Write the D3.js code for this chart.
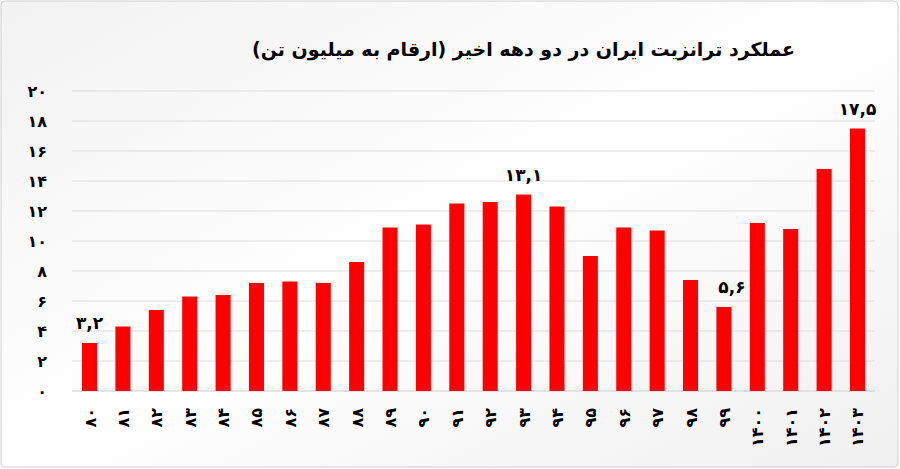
<!DOCTYPE html><html><head><meta charset="utf-8"><script src="https://cdn.jsdelivr.net/npm/d3@7"></script>
<style>body{margin:0}svg{display:block}</style></head><body><svg width="900" height="469"></svg><script>
const categories=["80","81","82","83","84","85","86","87","88","89","90","91","92","93","94","95","96","97","98","99","1400","1401","1402","1403"];
const values=[3.2,4.3,5.4,6.3,6.4,7.2,7.3,7.2,8.6,10.9,11.1,12.5,12.6,13.1,12.3,9.0,10.9,10.7,7.4,5.6,11.2,10.8,14.8,17.5];
const yTicks=[0,2,4,6,8,10,12,14,16,18,20];
const annotated={"80":"۳,۲","93":"۱۳,۱","99":"۵,۶","1403":"۱۷,۵"};
const title="عملکرد ترانزیت ایران در دو دهه اخیر (ارقام به میلیون تن)";
const fa=s=>String(s).replace(/\d/g,d=>"۰۱۲۳۴۵۶۷۸۹"[d]);
const svg=d3.select("svg");
const defs=svg.append("defs");
const g=defs.append("linearGradient").attr("id","bg").attr("x1",0).attr("y1",0).attr("x2",1).attr("y2",1);
g.append("stop").attr("offset","0").attr("stop-color","#f2f2f2");
g.append("stop").attr("offset","0.5").attr("stop-color","#ffffff");
g.append("stop").attr("offset","1").attr("stop-color","#f0f0f0");
svg.append("rect").attr("x",1).attr("y",1).attr("width",897).attr("height",466).attr("rx",4).attr("fill","url(#bg)").attr("stroke","#d0d0d0");
const x=d3.scaleBand().domain(categories).range([72,875]).paddingInner(0.55).paddingOuter(0.3);
const y=d3.scaleLinear().domain([0,20]).range([391,91]);
svg.append("g").selectAll("line").data(yTicks).join("line").attr("x1",72).attr("x2",875).attr("y1",d=>y(d)).attr("y2",d=>y(d)).attr("stroke",(d)=>d===0?"#cfcfcf":"#dcdcdc");
svg.append("g").selectAll("text").data(yTicks).join("text").attr("x",47).attr("y",d=>y(d)+6).attr("text-anchor","end").attr("font-family","DejaVu Sans").attr("font-size",16).attr("font-weight","bold").text(d=>fa(d));
svg.append("g").selectAll("rect").data(values).join("rect").attr("x",(d,i)=>x(categories[i])).attr("width",x.bandwidth()).attr("y",d=>y(d)).attr("height",d=>y(0)-y(d)).attr("fill","#ff0000");
svg.append("g").selectAll("text").data(categories).join("text").attr("transform",d=>`translate(${x(d)+x.bandwidth()/2+6},${408}) rotate(-90)`).attr("text-anchor","end").attr("font-family","DejaVu Sans").attr("font-size",16).attr("font-weight","bold").text(d=>fa(d));
svg.append("g").selectAll("text").data(categories.filter(c=>annotated[c])).join("text").attr("x",d=>x(d)+x.bandwidth()/2+ (d==="99"?8:0)).attr("y",d=>y(values[categories.indexOf(d)])-14).attr("text-anchor","middle").attr("font-family","DejaVu Sans").attr("font-size",17).attr("font-weight","bold").text(d=>annotated[d]);
svg.append("text").attr("x",795).attr("y",56).attr("text-anchor","start").attr("direction","rtl").attr("font-family","DejaVu Sans").attr("font-size",19).attr("font-weight","bold").text(title);
</script></body></html>
